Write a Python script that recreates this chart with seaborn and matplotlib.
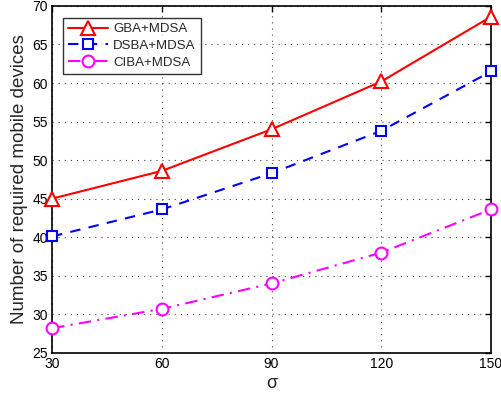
import matplotlib
matplotlib.use("Agg")
import matplotlib.pyplot as plt
import seaborn as sns
import pandas as pd

sigma = [30, 60, 90, 120, 150]
gba_mdsa = [45.0, 48.6, 54.0, 60.2, 68.6]
dsba_mdsa = [40.1, 43.6, 48.3, 53.8, 61.5]
ciba_mdsa = [28.2, 30.7, 34.0, 38.0, 43.6]
series_names = ["GBA+MDSA", "DSBA+MDSA", "CIBA+MDSA"]
y_ticks = [25, 30, 35, 40, 45, 50, 55, 60, 65, 70]

sns.set_theme(style="white")
plt.rcParams["font.family"] = ["Liberation Sans", "DejaVu Sans"]

df = pd.DataFrame({
    "sigma": sigma * 3,
    "value": gba_mdsa + dsba_mdsa + ciba_mdsa,
    "series": [series_names[0]] * 5 + [series_names[1]] * 5 + [series_names[2]] * 5,
})

fig = plt.figure(figsize=(5.01, 3.96), dpi=100)
ax = fig.add_axes([0.104, 0.109, 0.876, 0.876])

styles = {
    "GBA+MDSA": dict(color="#ff0000", marker="^", ls="-", ms=10),
    "DSBA+MDSA": dict(color="#0000ff", marker="s", ls=(0, (5, 4)), ms=7),
    "CIBA+MDSA": dict(color="#ff00ff", marker="o", ls=(0, (6, 3, 1, 3)), ms=8.5),
}

for name in series_names:
    sub = df[df["series"] == name]
    st = styles[name]
    sns.lineplot(data=sub, x="sigma", y="value", ax=ax, color=st["color"],
                 linestyle=st["ls"], marker=st["marker"], markersize=st["ms"],
                 markerfacecolor="white", markeredgecolor=st["color"],
                 markeredgewidth=1.5, linewidth=1.5, label=name, clip_on=False,
                 zorder=3)

ax.set_xlim(30, 150)
ax.set_ylim(25, 70)
ax.set_xticks(sigma)
ax.set_yticks(y_ticks)
ax.tick_params(direction="in", length=4, width=1, labelsize=10, colors="black",
               top=True, right=True, pad=3)
ax.grid(True, linestyle=(0, (1, 4.5)), color="#444444", linewidth=0.8)
for sp in ax.spines.values():
    sp.set_color("black")
    sp.set_linewidth(1.2)

ax.set_xlabel("σ", fontsize=13, labelpad=3)
ax.set_ylabel("Number of required mobile devices", fontsize=13.5, labelpad=3)

leg = ax.legend(loc="upper left", bbox_to_anchor=(0.01, 0.985), fontsize=9.5,
                frameon=True, fancybox=False, handlelength=3.0,
                borderpad=0.4, labelspacing=0.35, handletextpad=0.4)
leg.get_frame().set_edgecolor("black")
leg.get_frame().set_linewidth(1.0)

fig.savefig("out.png", dpi=100)
